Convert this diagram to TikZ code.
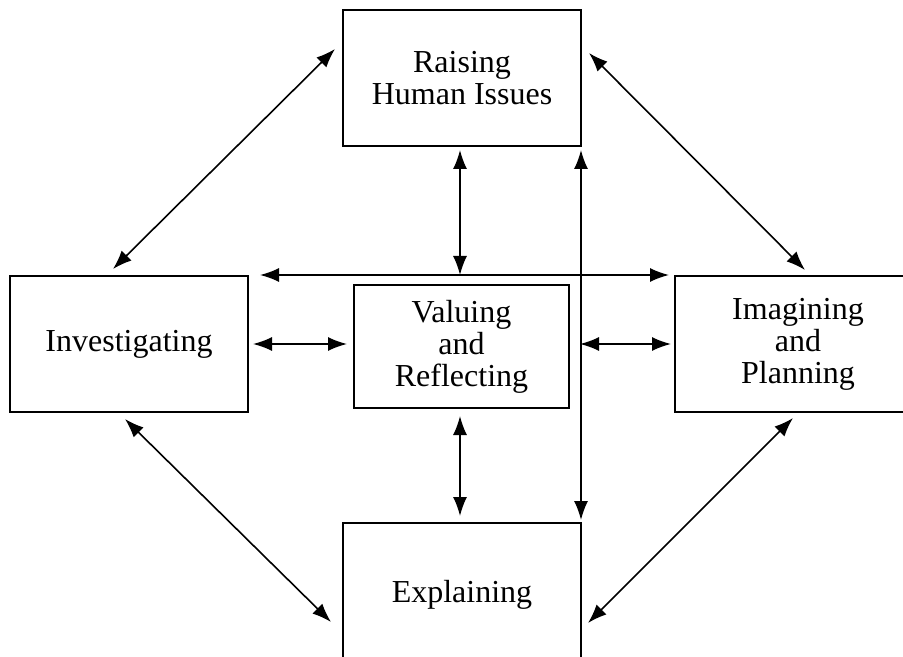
\documentclass[tikz,border=0pt]{standalone}
\usepackage{fontspec}
\setmainfont{Liberation Serif}
\usetikzlibrary{arrows.meta}
\begin{document}
\begin{tikzpicture}[x=0.5pt,y=-0.5pt,
    box/.style={draw,line width=1pt,rectangle,align=center,inner sep=0pt,
      font=\fontsize{16}{16}\selectfont},
    link/.style={line width=0.8pt,{Latex[length=9.5pt,width=7pt]}-{Latex[length=9.5pt,width=7pt]}}]
  \useasboundingbox (0,0) rectangle (903,657);
  \path (462,78) node[box,minimum width=119pt,minimum height=68pt] (T) {Raising\\Human Issues};
  \path (129,344) node[box,minimum width=119pt,minimum height=68pt] (L) {Investigating};
  \path (461.5,346.5) node[box,minimum width=107.5pt,minimum height=61.5pt] (C) {Valuing\\and\\Reflecting};
  \path (798,344) node[box,minimum width=123pt,minimum height=68pt] (R) {Imagining\\and\\Planning};
  \path (462,595) node[box,minimum width=119pt,minimum height=72pt] (B) {Explaining};

  \draw[link] ([shift={(-16,-6)}]L.north) -- ([shift={(-7,40)}]T.north west);
  \draw[link] ([shift={(7,44)}]T.north east) -- ([shift={(7,-5)}]R.north);
  \draw[link] ([shift={(-2,3)}]T.south) -- ([shift={(-2,0)}]T.south |- L.north);
  \draw[link] ([shift={(-1,3)}]T.south east) -- ([shift={(-1,-2)}]B.north east);
  \draw[link] ([shift={(11,0)}]L.north east) -- ([shift={(-5,0)}]R.north west);
  \draw[link] ([shift={(4,0)}]L.east) -- ([shift={(-6,0)}]C.west |- L.east);
  \draw[link] ([shift={(-2,0)}]T.south east |- R.west) -- ([shift={(-3,0)}]R.west);
  \draw[link] ([shift={(-1.5,7)}]C.south) -- ([shift={(-2,-6)}]B.north);
  \draw[link] ([shift={(-4,6)}]L.south) -- ([shift={(-11,27)}]B.west);
  \draw[link] ([shift={(-5,5)}]R.south) -- ([shift={(6,28)}]B.east);
\end{tikzpicture}
\end{document}
